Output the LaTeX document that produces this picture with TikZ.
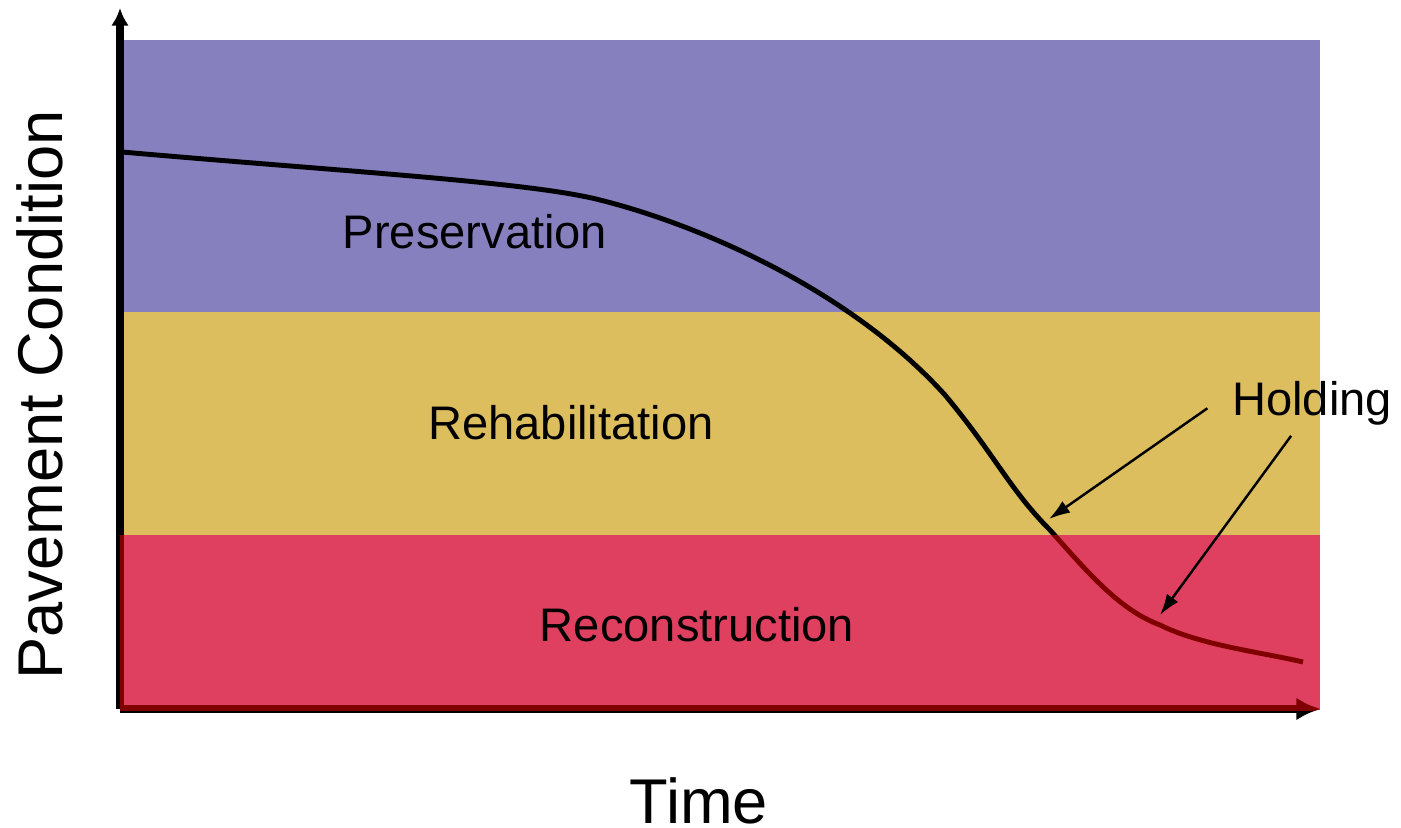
\documentclass[tikz,border=0pt]{standalone}
\usepackage{fontspec}
\setmainfont{Liberation Sans}
\usetikzlibrary{arrows.meta}

\definecolor{preserve}{RGB}{134,128,190}
\definecolor{rehab}{RGB}{221,190,94}
\definecolor{recon}{RGB}{223,64,96}
\definecolor{deepred}{RGB}{128,0,0}

\begin{document}
\begin{tikzpicture}[x=0.02cm,y=-0.02cm,
  band/.style={inner sep=0pt,font=\fontsize{26.8}{32}\selectfont},
  axislabel/.style={inner sep=0pt,font=\fontsize{36}{42}\selectfont},
  yaxis/.style={line width=4pt,-{Latex[length=10pt,width=10pt]}},
  xaxis/.style={line width=4pt,-{Latex[length=14pt,width=13pt]}},
  decay/.style={line width=2.8pt,line cap=butt},
  pointer/.style={line width=1.4pt,-{Latex[length=12pt,width=8pt]}}]
  \useasboundingbox (0,0) rectangle (1401,828);
  \fill[preserve] (123,40) rectangle (1320,312);
  \fill[rehab] (123,312) rectangle (1320,535);
  % axes and the condition curve
  \coordinate (o) at (120,709);
  \coordinate (ytop) at (120,8);
  \coordinate (xend) at (1321,709);
  \draw[yaxis] (o) -- (ytop);
  \draw[xaxis] (o) -- (xend);
  \def\decaycurve{(122,152) .. controls (350,172) and (530,182) .. (600,200)
    .. controls (700,225) and (850,290) .. (945,395)
    .. controls (995,455) and (1010,490) .. (1050,530)
    .. controls (1090,575) and (1120,610) .. (1160,625)
    .. controls (1200,645) and (1260,652) .. (1303,662)}
  \draw[decay] \decaycurve;
  \fill[recon] (120,535) rectangle (1320,710);
  \begin{scope}
    \clip (120,535) rectangle (1320,710);
    \draw[yaxis,deepred] (o) -- (ytop);
    \draw[xaxis,deepred] (o) -- (xend);
    \draw[decay,deepred] \decaycurve;
  \end{scope}
  \node[band] (pres) at (475,232) {Preservation};
  \node[band] (rehabtxt) at (571,423) {Rehabilitation};
  \node[band] (recontxt) at (697,625) {Reconstruction};
  \node[band,anchor=west] (holding) at (1232,403) {Holding};
  \node[axislabel,anchor=base] (time) at (699,823) {Time};
  \node[axislabel,rotate=90] (cond) at (40,395) {Pavement Condition};
  \coordinate (hold1) at (1049,519);
  \coordinate (hold2) at (1160,615);
  \draw[pointer] ([xshift=-14pt,yshift=-3pt]holding.west) -- (hold1);
  \draw[pointer] ([xshift=-12pt,yshift=-6pt]holding.south) -- (hold2);
\end{tikzpicture}
\end{document}
